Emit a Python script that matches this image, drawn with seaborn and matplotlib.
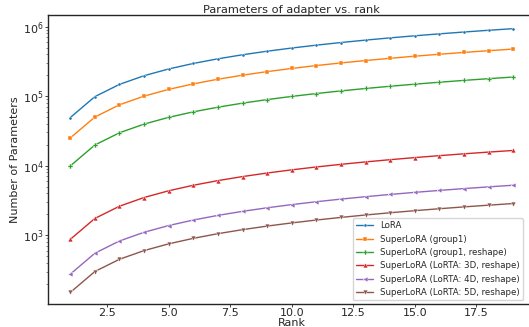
import pandas as pd
import seaborn as sns
import matplotlib.pyplot as plt

# Datos
rank = list(range(1, 20))
lora = [49152, 98304, 147456, 196608, 245760, 294912, 344064, 393216, 442368, 491520,
        540672, 589824, 638976, 688128, 737280, 786432, 835584, 884736, 933888]
group1 = [25000, 50000, 75000, 100000, 125000, 150000, 175000, 200000, 225000, 250000,
          275000, 300000, 325000, 350000, 375000, 400000, 425000, 450000, 475000]
group1_reshape = [9900, 19800, 29700, 39600, 49500, 59400, 69300, 79200, 89100, 99000,
                  108900, 118800, 128700, 138600, 148500, 158400, 168300, 178200, 188100]
lorta_3d = [870, 1740, 2610, 3480, 4350, 5220, 6090, 6960, 7830, 8700,
            9570, 10440, 11310, 12180, 13050, 13920, 14790, 15660, 16530]
lorta_4d = [275, 550, 825, 1100, 1375, 1650, 1925, 2200, 2475, 2750,
            3025, 3300, 3575, 3850, 4125, 4400, 4675, 4950, 5225]
lorta_5d = [150, 300, 450, 600, 750, 900, 1050, 1200, 1350, 1500,
            1650, 1800, 1950, 2100, 2250, 2400, 2550, 2700, 2850]

series = {
    "LoRA": lora,
    "SuperLoRA (group1)": group1,
    "SuperLoRA (group1, reshape)": group1_reshape,
    "SuperLoRA (LoRTA: 3D, reshape)": lorta_3d,
    "SuperLoRA (LoRTA: 4D, reshape)": lorta_4d,
    "SuperLoRA (LoRTA: 5D, reshape)": lorta_5d,
}
markers = [".", "s", "P", "^", "<", "v"]

sns.set_style("ticks")
plt.rcParams["font.family"] = ["DejaVu Sans"]
plt.rcParams["font.size"] = 8

fig, ax = plt.subplots(figsize=(5.29, 3.27), dpi=100)
colors = sns.color_palette("tab10", 6)

for (nombre, vals), mk, c in zip(series.items(), markers, colors):
    df = pd.DataFrame({"rank": rank, "params": vals})
    sns.lineplot(data=df, x="rank", y="params", ax=ax, color=c, marker=mk,
                 markersize=3.5 if mk != "." else 4.5, markeredgewidth=0.3,
                 linewidth=1.0, label=nombre)

ax.set_yscale("log")
ax.set_ylim(103, 1.45e6)
ax.set_title("Parameters of adapter vs. rank", fontsize=8.2, pad=2)
ax.set_xlabel("Rank", fontsize=8, labelpad=0)
ax.set_ylabel("Number of Parameters", fontsize=8, labelpad=2)
ax.tick_params(which="major", labelsize=8, length=2, pad=1, width=0.6)
ax.tick_params(which="minor", length=1.2, width=0.4)
ax.legend(loc="lower right", fontsize=6.2, frameon=True, borderaxespad=0.4,
          bbox_to_anchor=(0.982, 0.0))
for s in ax.spines.values():
    s.set_visible(True)
    s.set_linewidth(1.0)

plt.subplots_adjust(left=0.091, right=1.012, top=0.953, bottom=0.071)
plt.savefig("out.png", dpi=100)
plt.close()
